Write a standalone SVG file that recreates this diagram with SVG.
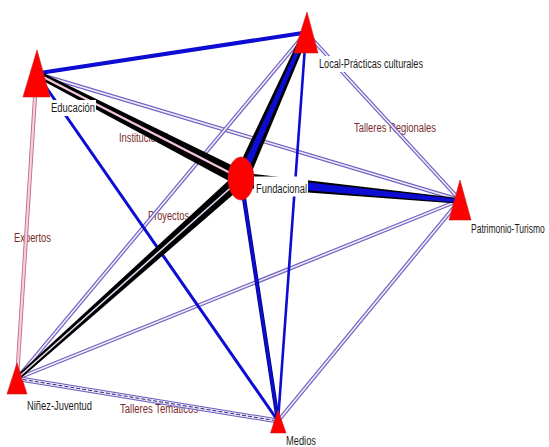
<svg xmlns="http://www.w3.org/2000/svg" width="549" height="447" viewBox="0 0 549 447">
<defs>
<style>
.nl{font-family:"Liberation Sans",Arial,sans-serif;font-size:12.5px;fill:#1c1c1c}
.el{font-family:"Liberation Sans",Arial,sans-serif;font-size:12.5px;fill:#7a2c2c}
.bx{fill:#ffffff}
.lvo{stroke:#7262c2;stroke-width:4;fill:none}
.lvi{stroke:#f3ebf8;stroke-width:1.6;fill:none}
.blue{stroke:#0c0cd2;fill:none}
.tri{fill:#ff0000;stroke:#c81e1e;stroke-width:0.6}
</style>
</defs>
<rect width="549" height="447" fill="#ffffff"/>
<g id="edge-labels">
<text class="el" x="119" y="142" textLength="49" lengthAdjust="spacingAndGlyphs">Institucional</text>
<text class="el" x="354" y="131.5" textLength="82" lengthAdjust="spacingAndGlyphs">Talleres Regionales</text>
<text class="el" x="148" y="220" textLength="41" lengthAdjust="spacingAndGlyphs">Proyectos</text>
<text class="el" x="14" y="241.5" textLength="37" lengthAdjust="spacingAndGlyphs">Expertos</text>
<text class="el" x="120" y="413" textLength="78" lengthAdjust="spacingAndGlyphs">Talleres Temáticos</text>
</g>
<g id="connectors">
<line class="lvo" x1="36.5" y1="73.5" x2="460" y2="200"/>
<line class="lvi" x1="36.5" y1="73.5" x2="460" y2="200"/>
<line class="lvo" x1="306" y1="32.5" x2="460" y2="200"/>
<line class="lvi" x1="306" y1="32.5" x2="460" y2="200"/>
<line class="lvo" x1="306" y1="32.5" x2="17" y2="378.5"/>
<line class="lvi" x1="306" y1="32.5" x2="17" y2="378.5"/>
<line class="lvo" x1="17" y1="378.5" x2="460" y2="200"/>
<line class="lvi" x1="17" y1="378.5" x2="460" y2="200"/>
<line class="lvo" x1="278" y1="421" x2="460" y2="200"/>
<line class="lvi" x1="278" y1="421" x2="460" y2="200"/>
<line x1="17" y1="378.5" x2="278" y2="421" stroke="#6a5abc" stroke-width="5" fill="none"/>
<line x1="17" y1="378.5" x2="278" y2="421" stroke="#f1e9f7" stroke-width="3" fill="none"/>
<line x1="17" y1="378.5" x2="278" y2="421" stroke="#2a2a80" stroke-width="1" stroke-dasharray="4 2" fill="none"/>
<line x1="36.5" y1="73.5" x2="17" y2="378.5" stroke="#bc6f88" stroke-width="4" fill="none"/>
<line x1="36.5" y1="73.5" x2="17" y2="378.5" stroke="#f8cfe0" stroke-width="2.2" fill="none"/>
<line class="blue" x1="36.5" y1="73.5" x2="306" y2="32.5" stroke-width="4"/>
<line class="blue" x1="36.5" y1="73.5" x2="278" y2="421" stroke-width="3"/>
<line class="blue" x1="306" y1="32.5" x2="278" y2="421" stroke-width="2.6"/>
<line x1="241" y1="178.5" x2="278" y2="421" stroke="#000080" stroke-width="4.2" fill="none"/>
<line class="blue" x1="241" y1="178.5" x2="278" y2="421" stroke-width="2.8"/>
<polygon points="38.1,70.39 244.65,171.38 237.35,185.62 34.9,76.61" fill="#000000"/>
<line x1="36.5" y1="73.5" x2="241" y2="178.5" stroke="#f2c6dc" stroke-width="2.2"/>
<polygon points="302.8,31.08 234.15,175.45 247.85,181.55 309.2,33.92" fill="#000000"/>
<polygon points="304.35,31.77 237.8,177.08 244.2,179.92 307.65,33.23" fill="#0c0cd2"/>
<polygon points="241.72,172.53 460.27,198.21 459.73,203.79 240.28,187.47" fill="#000000"/>
<polygon points="241.46,175.22 460.16,199.31 459.84,202.69 240.54,184.78" fill="#0c0cd2"/>
<polygon points="245.66,183.72 18.66,380.36 15.34,376.64 236.34,173.28" fill="#000000"/>
<line x1="241" y1="178.5" x2="17" y2="378.5" stroke="#e6d6f0" stroke-width="1.6"/>
</g>
<g id="educacion">
<polygon class="tri" points="37,50 50,97 23,97"/>
<rect class="bx" x="50" y="100" width="46" height="16"/>
<text class="nl" x="51" y="112" textLength="44" lengthAdjust="spacingAndGlyphs">Educación</text>
</g>
<g id="local">
<polygon class="tri" points="307,12 318,53 294,53"/>
<rect class="bx" x="317" y="56" width="108" height="16"/>
<text class="nl" x="319" y="68" textLength="104" lengthAdjust="spacingAndGlyphs">Local-Prácticas culturales</text>
</g>
<g id="fundacional">
<ellipse cx="241" cy="178.5" rx="13" ry="21.5" fill="#ff0000" stroke="#c81e1e" stroke-width="0.6"/>
<rect class="bx" x="254" y="176.5" width="54" height="20"/>
<text class="nl" x="256" y="192.5" textLength="51" lengthAdjust="spacingAndGlyphs">Fundacional</text>
</g>
<g id="patrimonio">
<polygon class="tri" points="460,180 471,220 449,220"/>
<rect class="bx" x="469" y="222" width="78" height="15"/>
<text class="nl" transform="translate(471,233) scale(0.68,1)" x="0" y="0">Patrimonio-Turismo</text>
</g>
<g id="ninez">
<polygon class="tri" points="17,363 27,394 7,394"/>
<rect class="bx" x="25" y="398" width="69" height="15"/>
<text class="nl" x="27" y="409.5" textLength="65" lengthAdjust="spacingAndGlyphs">Niñez-Juventud</text>
</g>
<g id="medios">
<polygon class="tri" points="278,410 286,433 270.5,433"/>
<rect class="bx" x="284" y="434" width="36" height="13"/>
<text class="nl" x="286" y="445" textLength="30" lengthAdjust="spacingAndGlyphs">Medios</text>
</g>
</svg>
